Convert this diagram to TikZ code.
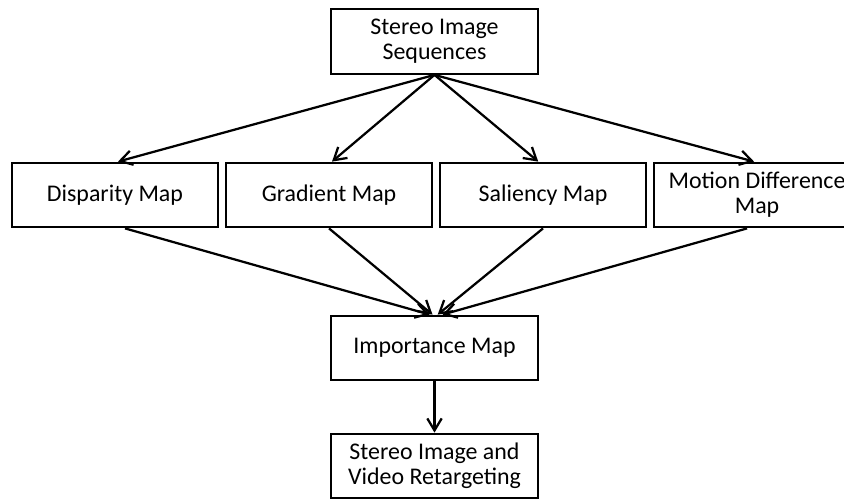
\documentclass[tikz,border=0pt]{standalone}
\usepackage{fontspec}
\setmainfont{Carlito}
\usetikzlibrary{arrows.meta,positioning}
\tikzset{
    mapnode/.style={
        rectangle,
        draw=black, % 黑色边框
        line width=1.4pt,
        minimum width=5.15cm,
        minimum height=1.62cm,
        align=center,
        inner sep=0,
        font=\fontsize{17}{18}\selectfont
    },
    flowarrow/.style={
        line width=1.6pt,
        -{Straight Barb[length=3mm,width=3.6mm]}
    }
}
\begin{document}
\begin{tikzpicture}[x=0.025cm,y=-0.025cm]
    \useasboundingbox (0,0) rectangle (844,500);
    % 输入
    \node[mapnode] (stereo) at (434.5,41.5) {Stereo Image\\Sequences};
    % 四种特征图
    \node[mapnode] (disparity) at (115,195) {Disparity Map};
    \node[mapnode, right=0.15cm of disparity] (gradient) {Gradient Map};
    \node[mapnode, right=0.15cm of gradient] (saliency) {Saliency Map};
    \node[mapnode, right=0.15cm of saliency] (motion) {Motion Difference\\Map};
    % 融合与输出
    \node[mapnode] (importance) at (434.5,348) {Importance Map};
    \node[mapnode] (retarget) at (434.5,466) {Stereo Image and\\Video Retargeting};

    \draw[flowarrow] (stereo.south) -- ([xshift=0.075cm]disparity.north);
    \draw[flowarrow] (stereo.south) -- ([xshift=0.075cm]gradient.north);
    \draw[flowarrow] (stereo.south) -- ([xshift=-0.12cm]saliency.north);
    \draw[flowarrow] (stereo.south) -- ([xshift=-0.075cm]motion.north);

    \draw[flowarrow] ([xshift=0.25cm]disparity.south) -- ([xshift=-0.12cm]importance.north);
    \draw[flowarrow] (gradient.south) -- ([xshift=-0.05cm]importance.north);
    \draw[flowarrow] (saliency.south) -- ([xshift=0.08cm]importance.north);
    \draw[flowarrow] ([xshift=-0.25cm]motion.south) -- ([xshift=0.2cm]importance.north);

    \draw[flowarrow] (importance.south) -- (retarget.north);
\end{tikzpicture}
\end{document}
